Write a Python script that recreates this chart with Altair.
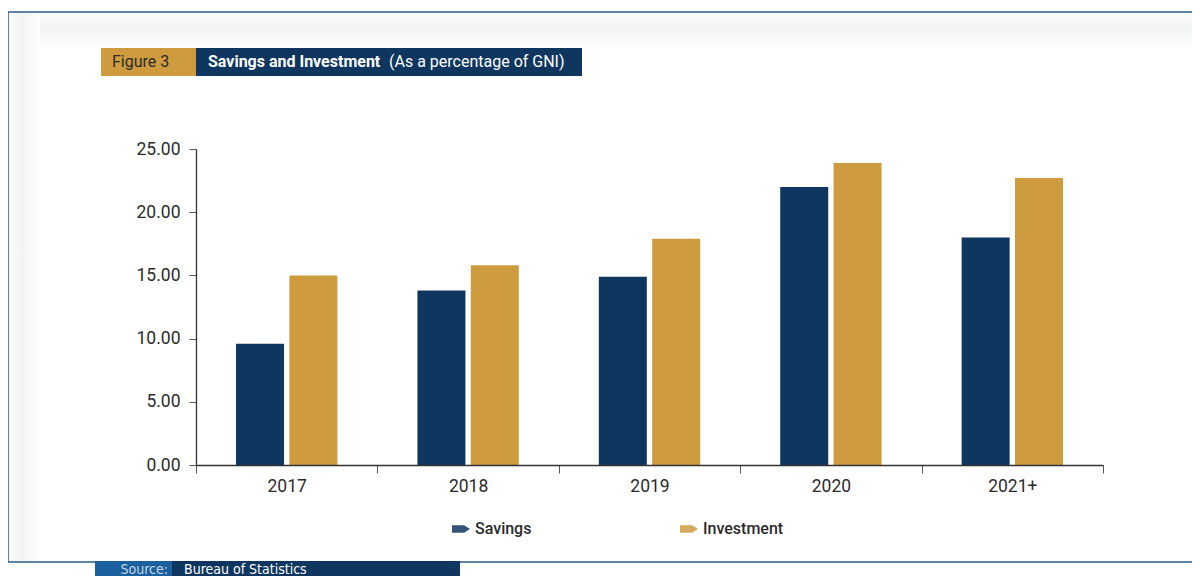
import altair as alt
import pandas as pd

years = ["2017", "2018", "2019", "2020", "2021+"]
savings = [9.6, 13.8, 14.9, 22.0, 18.0]
investment = [15.0, 15.8, 17.9, 23.9, 22.7]
series = ["Savings", "Investment"]
colors = ["#0e365f", "#cf9b3f"]
y_ticks = [0, 5, 10, 15, 20, 25]

rows = []
for i, yr in enumerate(years):
    rows.append({"year": yr, "series": "Savings", "value": savings[i]})
    rows.append({"year": yr, "series": "Investment", "value": investment[i]})
df = pd.DataFrame(rows)

FONT = "Roboto"
one = alt.Data(values=[{}])


def box(x, x2, y, y2, fill, **kw):
    return alt.Chart(one).mark_rect(fill=fill, strokeWidth=0, **kw).encode(
        x=alt.value(x), x2=alt.value(x2), y=alt.value(y), y2=alt.value(y2)
    )


def label(txt, x, y, color, size, weight="normal", align="left", font=FONT):
    return alt.Chart(one).mark_text(
        text=txt, align=align, baseline="middle", color=color,
        fontSize=size, fontWeight=weight, font=font
    ).encode(x=alt.value(x), y=alt.value(y))


def grad(horizontal):
    return alt.LinearGradient(
        gradient="linear",
        x1=0, y1=0, x2=1 if horizontal else 0, y2=0 if horizontal else 1,
        stops=[
            alt.GradientStop(offset=0, color="#fbfbfb"),
            alt.GradientStop(offset=0.45, color="#f2f3f3"),
            alt.GradientStop(offset=1, color="#ffffff"),
        ],
    )


bg = box(-188, 1010, -137, 413, "#ffffff")
top_band = box(-188, 1010, -137, -100, grad(False))
left_band = box(-188, -156, -137, 413, grad(True))
frame = alt.Chart(one).mark_rect(
    fillOpacity=0, stroke="#2d5b88", strokeWidth=1.5, fill="#ffffff"
).encode(x=alt.value(-188), x2=alt.value(1010), y=alt.value(-137), y2=alt.value(413))

gold = box(-95, 0, -101, -73, "#cf9b3f")
navy = box(0, 386, -101, -73, "#0e365f")
t1 = label("Figure 3", -84, -87, "#2b2b2b", 16)
t2 = label("Savings and Investment", 12, -87, "#ffffff", 16, "bold")
t3 = label("(As a percentage of GNI)", 193, -87, "#ffffff", 16)

src1 = box(-101, -24, 412, 430, "#1a5f9e")
src2 = box(-24, 264, 412, 430, "#0e365f")
s1 = label("Source:", -28, 421, "#c9d7e8", 14, align="right", font="DejaVu Sans Condensed")
s2 = label("Bureau of Statistics", -12, 421, "#ffffff", 14, font="DejaVu Sans Condensed")

legend_path = "M-1,-0.42 L0.35,-0.42 L1,0 L0.35,0.42 L-1,0.42 Z"

bars = alt.Chart(df).mark_bar().encode(
    x=alt.X(
        "year:N", sort=years, title=None,
        scale=alt.Scale(paddingInner=0, paddingOuter=0),
        axis=alt.Axis(
            labelAngle=0, tickBand="extent", tickSize=8, tickColor="#555555",
            domainColor="#333333", domainWidth=1.3, labelFontSize=17.5,
            labelColor="#2b2b2b", labelFont=FONT, labelPadding=4, zindex=1,
        ),
    ),
    xOffset=alt.XOffset(
        "series:N", sort=series,
        scale=alt.Scale(paddingInner=0.1, paddingOuter=0.75),
    ),
    y=alt.Y(
        "value:Q", title=None,
        scale=alt.Scale(domain=[0, 25], nice=False),
        axis=alt.Axis(
            values=y_ticks, format=".2f", grid=False, tickSize=7,
            tickColor="#555555", domainColor="#333333", domainWidth=1.3,
            labelFontSize=17.5, labelColor="#2b2b2b", labelFont=FONT,
            labelPadding=9, zindex=1,
        ),
    ),
    color=alt.Color(
        "series:N", sort=series,
        scale=alt.Scale(domain=series, range=colors),
        legend=alt.Legend(
            title=None, orient="none", direction="horizontal",
            legendX=256, legendY=371, symbolType=legend_path,
            symbolSize=324, symbolStrokeWidth=0, symbolOpacity=0.85,
            labelFontSize=16, labelFont=FONT, labelFontWeight=500,
            labelColor="#2b2b2b", columnPadding=148, labelOffset=5,
        ),
    ),
)

chart = alt.layer(
    bg, top_band, left_band, frame, gold, navy, t1, t2, t3,
    src1, src2, s1, s2, bars
).properties(
    width=907, height=316,
    autosize=alt.AutoSizeParams(type="none"),
    padding={"left": 188, "top": 141, "right": 89, "bottom": 111},
).configure_view(stroke=None)

chart.save("out.html", embed_options={"renderer": "svg", "actions": False})
